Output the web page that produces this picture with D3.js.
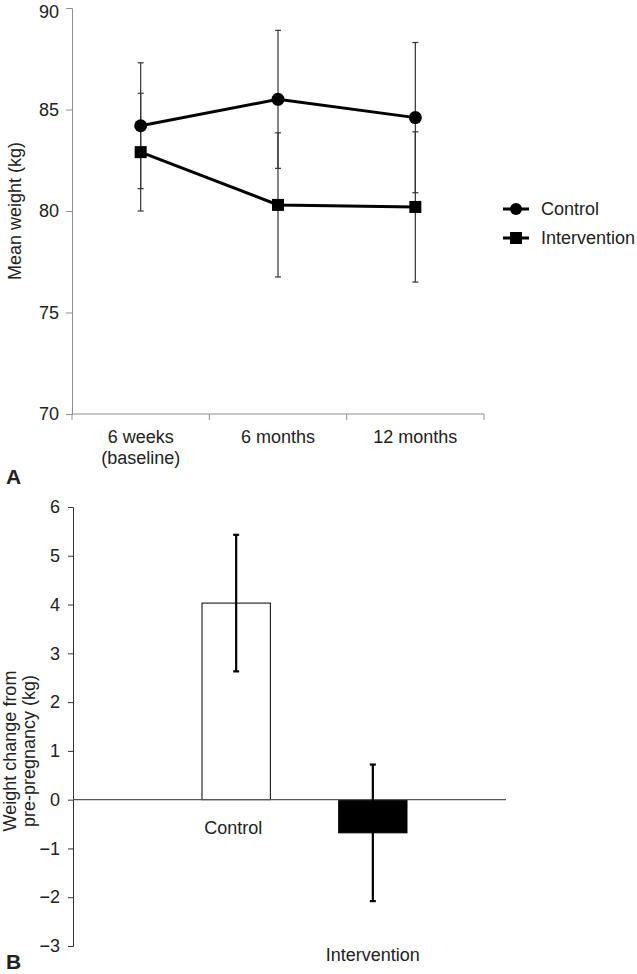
<!DOCTYPE html>
<html>
<head>
<meta charset="utf-8">
<script src="https://cdn.jsdelivr.net/npm/d3@7"></script>
<style>
  body { margin: 0; background: #fff; }
  svg text { font-family: "Liberation Sans", Arial, sans-serif; fill: #222; }
</style>
</head>
<body>
<div id="chart"></div>
<script>
// panel A - mean weight over time
const timepoints = ["6 weeks\n(baseline)", "6 months", "12 months"];
const controlMean = [84.2, 85.5, 84.6];
const controlErr = [3.1, 3.4, 3.7];
const interventionMean = [82.9, 80.3, 80.2];
const interventionErr = [2.9, 3.55, 3.7];
const weightTicks = [70, 75, 80, 85, 90];

// panel B - weight change from pre-pregnancy
const groups = ["Control", "Intervention"];
const changeMean = [4.03, -0.68];
const changeErr = [1.4, 1.4];
const changeTicks = [-3, -2, -1, 0, 1, 2, 3, 4, 5, 6];

const width = 637;
const height = 974;
const fs = "18px";

const svg = d3.select("#chart")
  .append("svg")
  .attr("width", width)
  .attr("height", height);

// ---------- panel A ----------
const xA = d3.scaleBand()
  .domain(timepoints)
  .range([72, 484]);

const yA = d3.scaleLinear()
  .domain([70, 90])
  .range([414, 8]);

const axisGrey = "#8f8f8f";

// y axis
const yAxisA = svg.append("g")
  .attr("transform", "translate(72,0)")
  .call(d3.axisLeft(yA).tickValues(weightTicks).tickSize(6).tickPadding(7));
yAxisA.select(".domain").attr("stroke", axisGrey);
yAxisA.selectAll(".tick line").attr("stroke", axisGrey);
yAxisA.selectAll(".tick text").attr("font-size", fs).attr("fill", "#222")
  .attr("dy", d => d === 90 ? "0.5em" : "0.32em"); // keep top label inside the page

// x axis with ticks at band edges
const xAxisA = svg.append("g").attr("transform", "translate(0,414)");
xAxisA.append("line")
  .attr("x1", 72).attr("x2", 484)
  .attr("stroke", axisGrey);
xAxisA.selectAll("line.edge")
  .data(timepoints.concat(["end"]))
  .join("line")
  .attr("class", "edge")
  .attr("x1", (d, i) => i < timepoints.length ? xA(d) : xA.range()[1])
  .attr("x2", (d, i) => i < timepoints.length ? xA(d) : xA.range()[1])
  .attr("y1", 0).attr("y2", 6)
  .attr("stroke", axisGrey);
xAxisA.selectAll("text.cat")
  .data(timepoints)
  .join("text")
  .attr("class", "cat")
  .attr("text-anchor", "middle")
  .attr("font-size", fs)
  .attr("x", d => xA(d) + xA.bandwidth() / 2)
  .attr("y", 29)
  .selectAll("tspan")
  .data(d => d.split("\n"))
  .join("tspan")
  .attr("x", function () { return d3.select(this.parentNode).attr("x"); })
  .attr("dy", (d, i) => i === 0 ? 0 : 21)
  .text(d => d);

// axis title
svg.append("text")
  .attr("transform", "translate(21,211) rotate(-90)")
  .attr("text-anchor", "middle")
  .attr("font-size", fs)
  .text("Mean weight (kg)");

const seriesA = [
  { name: "Control", mean: controlMean, err: controlErr, shape: "circle" },
  { name: "Intervention", mean: interventionMean, err: interventionErr, shape: "square" }
];

const cx = d => xA(d) + xA.bandwidth() / 2;

// error bars
seriesA.forEach(s => {
  const g = svg.append("g").attr("stroke", "#333").attr("stroke-width", 1.2);
  timepoints.forEach((t, i) => {
    const lo = s.mean[i] - s.err[i];
    const hi = s.mean[i] + s.err[i];
    g.append("line").attr("x1", cx(t)).attr("x2", cx(t))
      .attr("y1", yA(lo)).attr("y2", yA(hi));
    g.append("line").attr("x1", cx(t) - 3).attr("x2", cx(t) + 3)
      .attr("y1", yA(lo)).attr("y2", yA(lo));
    g.append("line").attr("x1", cx(t) - 3).attr("x2", cx(t) + 3)
      .attr("y1", yA(hi)).attr("y2", yA(hi));
  });
});

const line = d3.line()
  .x((d, i) => cx(timepoints[i]))
  .y(d => yA(d));

seriesA.forEach(s => {
  svg.append("path")
    .datum(s.mean)
    .attr("fill", "none")
    .attr("stroke", "#000")
    .attr("stroke-width", 3)
    .attr("d", line);

  const pts = svg.append("g").selectAll("g")
    .data(s.mean)
    .join("g")
    .attr("transform", (d, i) => `translate(${cx(timepoints[i])},${yA(d)})`);
  if (s.shape === "circle") {
    pts.append("circle").attr("r", 6.5).attr("fill", "#000");
  } else {
    pts.append("rect").attr("x", -6).attr("y", -6).attr("width", 12).attr("height", 12).attr("fill", "#000");
  }
});

// legend
const legend = svg.append("g").attr("transform", "translate(503,209)");
seriesA.forEach((s, i) => {
  const g = legend.append("g").attr("transform", `translate(0,${i * 29})`);
  g.append("line").attr("x1", 0).attr("x2", 26).attr("stroke", "#000").attr("stroke-width", 3);
  if (s.shape === "circle") {
    g.append("circle").attr("cx", 13).attr("r", 6).attr("fill", "#000");
  } else {
    g.append("rect").attr("x", 7).attr("y", -6).attr("width", 12).attr("height", 12).attr("fill", "#000");
  }
  g.append("text").attr("x", 38).attr("y", 6).attr("font-size", fs).text(s.name);
});

svg.append("text")
  .attr("x", 6).attr("y", 484)
  .attr("font-size", "21px").attr("font-weight", "bold")
  .attr("fill", "#000")
  .text("A");

// ---------- panel B ----------
const xB = d3.scaleBand()
  .domain(groups)
  .range([202, 407])
  .paddingInner(0.5);

const yB = d3.scaleLinear()
  .domain([-3, 6])
  .range([946, 507]);

const yAxisB = svg.append("g")
  .attr("transform", "translate(73,0)")
  .call(d3.axisLeft(yB).tickValues(changeTicks).tickSize(5).tickPadding(8)
    .tickFormat(d => d < 0 ? "\u2212" + Math.abs(d) : d));
yAxisB.select(".domain").attr("stroke", "#333");
yAxisB.selectAll(".tick line").attr("stroke", "#333");
yAxisB.selectAll(".tick text").attr("font-size", fs).attr("fill", "#222");

// bars
svg.append("g")
  .selectAll("rect")
  .data(changeMean)
  .join("rect")
  .attr("x", (d, i) => xB(groups[i]))
  .attr("y", d => yB(Math.max(0, d)))
  .attr("width", xB.bandwidth())
  .attr("height", d => Math.abs(yB(d) - yB(0)))
  .attr("fill", (d, i) => i === 0 ? "#fff" : "#000")
  .attr("stroke", "#000")
  .attr("stroke-width", 1);

// zero line
svg.append("line")
  .attr("x1", 73).attr("x2", 506)
  .attr("y1", yB(0)).attr("y2", yB(0))
  .attr("stroke", "#555").attr("stroke-width", 1.2);

// error bars
const eb = svg.append("g").attr("stroke", "#000").attr("stroke-width", 2.2);
changeMean.forEach((m, i) => {
  const x = xB(groups[i]) + xB.bandwidth() / 2;
  const lo = m - changeErr[i], hi = m + changeErr[i];
  eb.append("line").attr("x1", x).attr("x2", x).attr("y1", yB(lo)).attr("y2", yB(hi));
  eb.append("line").attr("x1", x - 3).attr("x2", x + 3).attr("y1", yB(lo)).attr("y2", yB(lo));
  eb.append("line").attr("x1", x - 3).attr("x2", x + 3).attr("y1", yB(hi)).attr("y2", yB(hi));
});

// category labels (Excel style, placed under the bars)
svg.append("text")
  .attr("x", xB("Control") + xB.bandwidth() / 2 - 3)
  .attr("y", 834)
  .attr("text-anchor", "middle").attr("font-size", fs)
  .text("Control");
svg.append("text")
  .attr("x", xB("Intervention") + xB.bandwidth() / 2)
  .attr("y", 961)
  .attr("text-anchor", "middle").attr("font-size", fs)
  .text("Intervention");

// axis title
const titleB = svg.append("text")
  .attr("transform", "translate(16,751) rotate(-90)")
  .attr("text-anchor", "middle")
  .attr("font-size", fs);
titleB.append("tspan").attr("x", 0).attr("dy", 0).text("Weight change from");
titleB.append("tspan").attr("x", 0).attr("dy", 19).text("pre-pregnancy (kg)");

svg.append("text")
  .attr("x", 6).attr("y", 969)
  .attr("font-size", "21px").attr("font-weight", "bold")
  .attr("fill", "#000")
  .text("B");
</script>
</body>
</html>
